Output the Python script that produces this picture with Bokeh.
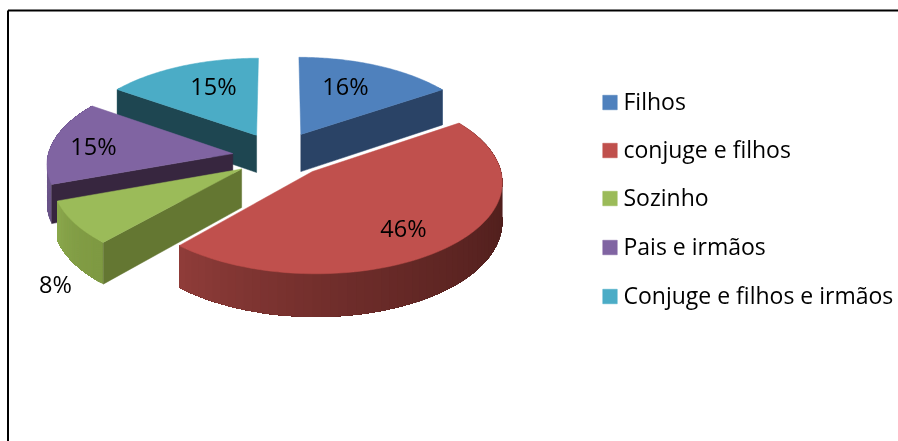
import numpy as np
from bokeh.plotting import figure
from bokeh.models import Range1d
from bokeh.core.properties import value
from bokeh.embed import file_html
from bokeh.resources import INLINE

categories = ["Filhos", "conjuge e filhos", "Sozinho", "Pais e irmãos", "Conjuge e filhos e irmãos"]
shares = [15.6, 46.0, 7.9, 15.2, 15.3]
labels = ["16%", "46%", "8%", "15%", "15%"]

top_colors = ["#4F81BD", "#C0504D", "#9BBB59", "#8064A2", "#4BACC6"]
edge_colors = ["#2A4366", "#4A1D1B", "#647732", "#37263F", "#1E4651"]
rim_from = ["#3A5F8C", "#4A1C1A", "#7F9A43", "#6A5488", "#2F7F94"]
rim_to = ["#3A5F8C", "#8F3C39", "#8CA94E", "#7A619B", "#2F7F94"]
nudge_x = [-1, 1, 0, -2, -3]
nudge_y = [-1, 0, 2, 2, 0]
label_x = [345, 403, 55, 93, 213]
label_y = [85, 227, 283, 145, 85]
legend_y = [102, 150, 198, 247, 296]

W, H = 898, 441
X0, Y0 = 280.0, 154.0      # centre of the un-exploded pie
R, Q, P = 185.0, 0.478, 0.1  # radius, tilt, perspective
EXPLODE = 0.25
DEPTH = 38.0
FONT = "Open Sans"
LABEL_FS = "23.5px"
LEGEND_FS = "23px"


def hexrgb(h):
    return np.array([int(h[i:i + 2], 16) for i in (1, 3, 5)], dtype=float)


def mix(a, b, t):
    c = hexrgb(a) * (1 - t) + hexrgb(b) * t
    return "#%02x%02x%02x" % tuple(int(round(v)) for v in c)


def project(angle, radius, mid, i):
    """angle clockwise from 12 o'clock, degrees; returns top x, top y, bottom y"""
    a, m = np.radians(angle), np.radians(mid)
    u = EXPLODE * np.sin(m) + radius * np.sin(a)
    v = -EXPLODE * np.cos(m) - radius * np.cos(a)
    s = 1 / (1 - P * v)
    y = Y0 + nudge_y[i] + R * Q * v * s
    return X0 + nudge_x[i] + R * u * s, y, y + DEPTH * s


p = figure(width=W, height=H, x_range=Range1d(0, W), y_range=Range1d(H, 0),
           toolbar_location=None, output_backend="svg", min_border=0,
           outline_line_color=None, background_fill_color="white",
           border_fill_color="white")
p.axis.visible = False
p.grid.visible = False
p.styles = {"position": "fixed", "left": "0px", "top": "0px"}

total = sum(shares)
edges = np.concatenate([[0], np.cumsum(shares)]) * 360.0 / total


def draw_slice(i):
    a1, a2 = edges[i], edges[i + 1]
    mid = (a1 + a2) / 2
    ang = np.linspace(a1, a2, 70)
    ax, ay, ab = project(0, 0, mid, i)
    tx, ty, tb = project(ang, 1, mid, i)
    # rim: each later polygon covers the rest of the arc, so no seams show.
    # The far part of the rim is hidden, so it is left out.
    shown = np.where(np.cos(np.radians(ang)) < 0.6)[0]
    if len(shown) > 1:
        rx, ry, rb = tx[shown], ty[shown], tb[shown]
        xs, ys, cols = [], [], []
        for j in range(len(shown) - 1):
            xs.append(np.r_[rx[j:], rx[j:][::-1]])
            ys.append(np.r_[ry[j:], rb[j:][::-1]])
            cols.append(mix(rim_from[i], rim_to[i], (shown[j] / (len(ang) - 2)) ** 1.8))
        p.patches(xs, ys, fill_color=cols, line_color=None)
    # cut faces that turn towards the viewer
    faces = []
    if np.sin(np.radians(a1)) < -1e-6:
        faces.append(a1)
    if np.sin(np.radians(a2)) > 1e-6:
        faces.append(a2)
    for edge in faces:
        ex, ey, eb = project(edge, 1, mid, i)
        p.patch([ax, ex, ex, ax], [ay, ey, eb, ab], fill_color=edge_colors[i],
                line_color=edge_colors[i], line_width=0.5)
    # top
    p.patch(np.r_[ax, tx], np.r_[ay, ty], fill_color=top_colors[i],
            line_color=top_colors[i], line_width=0.5)


for idx in (4, 0, 3, 2, 1):
    draw_slice(idx)

p.text(label_x, label_y, text=labels, text_font=value(FONT), text_font_size=value(LABEL_FS),
       text_color="#000000", text_align="center", text_baseline="middle")

# legend
p.scatter([609.5] * 5, legend_y, marker="square", size=14.5, fill_color=top_colors,
          line_color=top_colors, line_width=0.5)
p.text([623] * 5, legend_y, text=categories, text_font=value(FONT), text_font_size=value(LEGEND_FS),
       text_color="#000000", text_align="left", text_baseline="middle", y_offset=-1.5)

# frame
p.segment([7.5, 7.5], [10, 10], [7.5, W], [H, 10], line_color="#000000", line_width=2)

open("out.html", "w").write(file_html(p, INLINE))
